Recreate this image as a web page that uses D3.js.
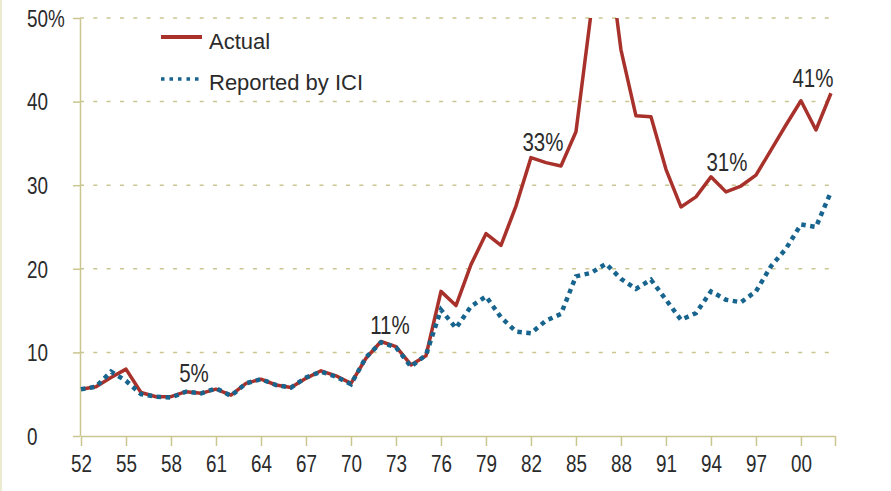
<!DOCTYPE html>
<html>
<head>
<meta charset="utf-8">
<script src="https://cdn.jsdelivr.net/npm/d3@7"></script>
<style>
body { margin: 0; background: #fff; }
svg { display: block; }
text { font-family: "Liberation Sans", Arial, sans-serif; fill: #2b2b2b; }
</style>
</head>
<body>
<svg id="chart" width="891" height="491"></svg>
<script>
// turnover data
let years = d3.range(1952, 2003);

let actual = [5.6, 5.9, 7.0, 8.0, 5.2, 4.7, 4.7, 5.3, 5.1, 5.6,
	4.9, 6.3, 6.8, 6.1, 5.8, 6.9, 7.8, 7.2, 6.3, 9.3,
	11.3, 10.7, 8.5, 9.6, 17.3, 15.6, 20.5, 24.2, 22.8, 27.5,
	33.3, 32.7, 32.3, 36.4, 50.5, 60.0, 46.2, 38.3, 38.2, 31.9,
	27.4, 28.6, 31.0, 29.2, 29.9, 31.2, 34.2, 37.2, 40.1, 36.6,
	41.0];

let reported = [5.6, 5.9, 7.7, 6.6, 5.0, 4.7, 4.6, 5.3, 5.1, 5.7,
	4.8, 6.3, 6.8, 6.1, 5.8, 7.0, 7.7, 7.1, 6.2, 9.4,
	11.2, 10.6, 8.3, 9.7, 15.1, 12.9, 15.5, 16.7, 14.2, 12.5,
	12.3, 13.8, 14.6, 19.1, 19.5, 20.6, 18.8, 17.6, 18.7, 16.3,
	13.9, 14.7, 17.3, 16.3, 16.0, 17.3, 20.3, 22.4, 25.3, 25.0,
	29.2];

let yTicks = [0, 10, 20, 30, 40, 50];
let xTicks = d3.range(1952, 2001, 3);

// labelled points: year, text
let notes = [
	{year: 1959, text: "5%", dx: 8, dy: -10},
	{year: 1972, text: "11%", dx: 9, dy: -8},
	{year: 1982, text: "33%", dx: 12, dy: -7},
	{year: 1994, text: "31%", dx: 16, dy: -6},
	{year: 2002, text: "41%", dx: -18, dy: -6}
];

let red = "#a8322b";
let blue = "#17648e";
let olive = "#c9c68f";
let narrow = 0.82; // squeeze Liberation Sans to a condensed look

let svg = d3.select("#chart");

// pale strip on the left edge
svg.append("rect").attr("x", 0).attr("y", 0).attr("width", 2).attr("height", 491).attr("fill", "#ecead0");

let xEnd = 2002.27;
let x = d3.scaleLinear().domain([1952, xEnd]).range([81, 835]);
let y = d3.scaleLinear().domain([0, 50]).range([436, 18]);

// dashed grid
svg.append("g").selectAll("line").data(yTicks.filter(d => d > 0)).enter().append("line")
	.attr("x1", 80).attr("x2", x(xEnd) - 2)
	.attr("y1", d => y(d)).attr("y2", d => y(d))
	.attr("stroke", olive).attr("stroke-width", 1.5).attr("stroke-dasharray", "4,9.3");

// y axis
let yAxis = svg.append("g").attr("transform", "translate(80,0)")
	.call(d3.axisLeft(y).tickValues(yTicks).tickSize(7).tickSizeOuter(0).tickFormat(d => d == 50 ? "50%" : d));
yAxis.select(".domain").attr("stroke", olive).attr("stroke-width", 1.5);
yAxis.selectAll(".tick line").attr("stroke", olive).attr("stroke-width", 1.5);
yAxis.selectAll(".tick text").attr("x", -53 / narrow).attr("text-anchor", "start")
	.attr("font-size", 23).attr("dy", "0.36em").attr("transform", "scale(" + narrow + ",1)");

// x axis
let xAxis = svg.append("g").attr("transform", "translate(0,436)")
	.call(d3.axisBottom(x).tickValues(xTicks.concat([xEnd])).tickSize(10).tickSizeOuter(0)
		.tickFormat(d => d == xEnd ? "" : String(d % 100).padStart(2, "0")));
xAxis.select(".domain").attr("stroke", olive).attr("stroke-width", 1.5);
xAxis.selectAll(".tick line").attr("stroke", olive).attr("stroke-width", 1.5);
xAxis.selectAll(".tick text").attr("font-size", 23).attr("y", 20).attr("transform", "scale(" + narrow + ",1)");

// clip at the 50% line
svg.append("clipPath").attr("id", "plotClip").append("rect")
	.attr("x", 75).attr("y", 18).attr("width", 780).attr("height", 430);

let line = d3.line().x((d, i) => x(years[i])).y(d => y(d));

let plot = svg.append("g").attr("clip-path", "url(#plotClip)");

plot.append("path").datum(actual).attr("d", line)
	.attr("fill", "none").attr("stroke", red).attr("stroke-width", 3.5).attr("stroke-linejoin", "round");

plot.append("path").datum(reported).attr("d", line)
	.attr("fill", "none").attr("stroke", blue).attr("stroke-width", 4.5).attr("stroke-dasharray", "4.5,4.5");

// annotations
svg.append("g").selectAll("text").data(notes).enter().append("text")
	.attr("transform", d => "translate(" + (x(d.year) + d.dx) + "," + (y(actual[years.indexOf(d.year)]) + d.dy) + ") scale(" + narrow + ",1)")
	.attr("text-anchor", "middle").attr("font-size", 25)
	.text(d => d.text);

// legend
let legend = svg.append("g");
legend.append("line").attr("x1", 161).attr("x2", 202).attr("y1", 37).attr("y2", 37)
	.attr("stroke", red).attr("stroke-width", 4);
legend.append("text").attr("x", 209).attr("y", 48.5).attr("font-size", 22).text("Actual");
legend.append("line").attr("x1", 161).attr("x2", 202).attr("y1", 79).attr("y2", 79)
	.attr("stroke", blue).attr("stroke-width", 3.5).attr("stroke-dasharray", "3.5,5");
legend.append("text").attr("x", 209).attr("y", 89.5).attr("font-size", 22).text("Reported by ICI");
</script>
</body>
</html>
